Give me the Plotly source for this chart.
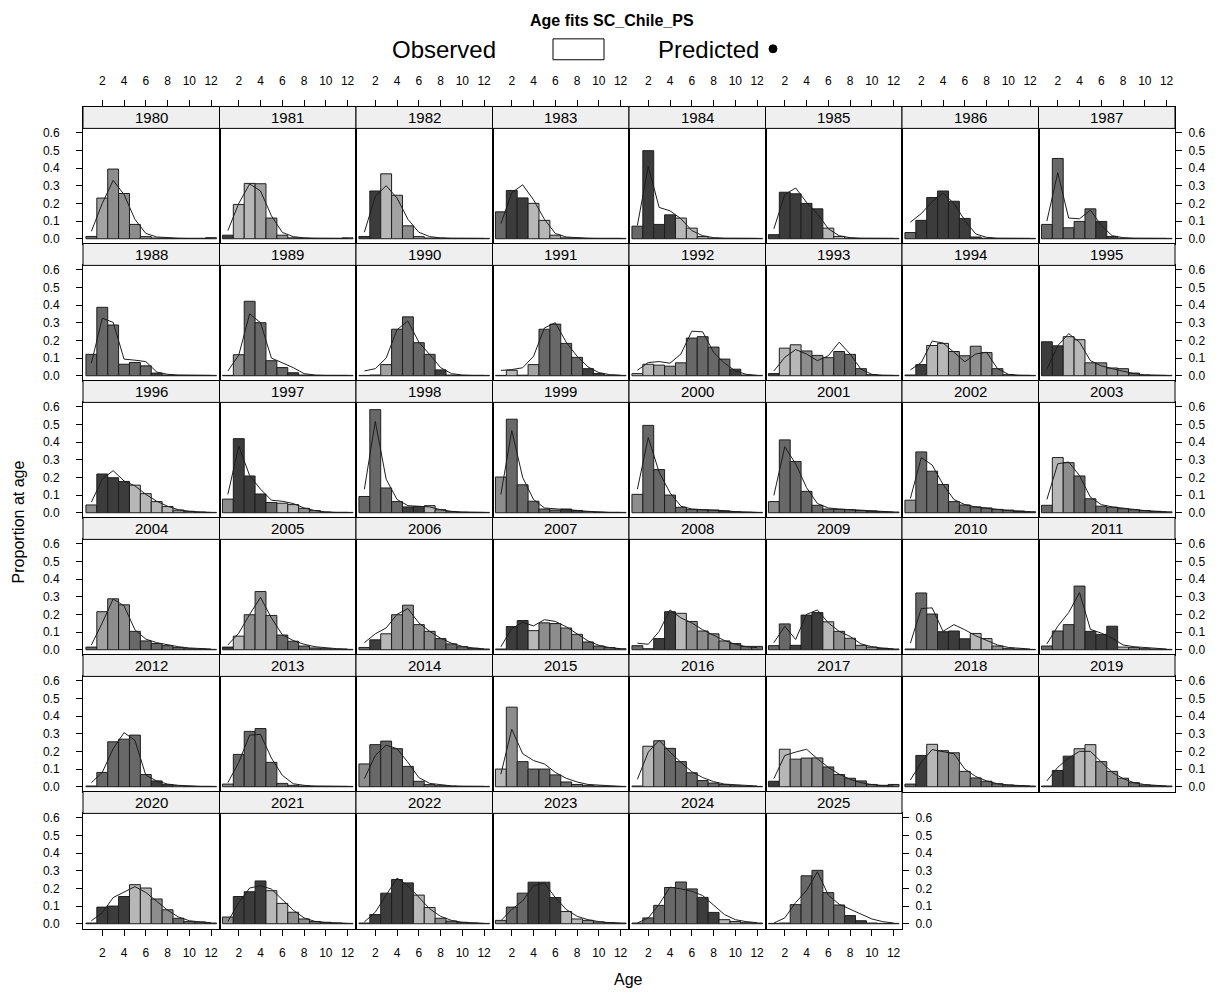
import plotly.graph_objects as go

# ---------------- data ----------------
AGES = list(range(1, 13))
YEARS = list(range(1980, 2026))

obs_1980 = [0.013, 0.23, 0.394, 0.256, 0.081, 0.012, 0.004, 0.003, 0.002, 0.002, 0.002, 0.006]
obs_1981 = [0.02, 0.194, 0.313, 0.311, 0.117, 0.02, 0.005, 0.003, 0.002, 0.002, 0.002, 0.005]
obs_1982 = [0.013, 0.27, 0.367, 0.246, 0.073, 0.012, 0.004, 0.003, 0.002, 0.002, 0.002, 0.002]
obs_1983 = [0.152, 0.273, 0.231, 0.2, 0.104, 0.02, 0.005, 0.003, 0.002, 0.002, 0.002, 0.002]
obs_1984 = [0.071, 0.498, 0.081, 0.135, 0.117, 0.06, 0.013, 0.003, 0.002, 0.002, 0.002, 0.002]
obs_1985 = [0.023, 0.263, 0.254, 0.2, 0.169, 0.06, 0.013, 0.003, 0.002, 0.002, 0.002, 0.002]
obs_1986 = [0.035, 0.104, 0.233, 0.27, 0.212, 0.115, 0.01, 0.003, 0.002, 0.002, 0.002, 0.002]
obs_1987 = [0.081, 0.454, 0.062, 0.098, 0.169, 0.098, 0.013, 0.003, 0.002, 0.002, 0.002, 0.002]
obs_1988 = [0.121, 0.387, 0.287, 0.065, 0.075, 0.056, 0.015, 0.004, 0.002, 0.002, 0.002, 0.002]
obs_1989 = [0.002, 0.119, 0.421, 0.3, 0.085, 0.046, 0.017, 0.004, 0.002, 0.002, 0.002, 0.002]
obs_1990 = [0.002, 0.004, 0.063, 0.263, 0.333, 0.187, 0.121, 0.033, 0.004, 0.002, 0.002, 0.002]
obs_1991 = [0.002, 0.031, 0.003, 0.063, 0.263, 0.292, 0.183, 0.104, 0.04, 0.013, 0.003, 0.002]
obs_1992 = [0.012, 0.065, 0.06, 0.054, 0.073, 0.213, 0.221, 0.162, 0.094, 0.037, 0.004, 0.002]
obs_1993 = [0.012, 0.156, 0.175, 0.14, 0.115, 0.102, 0.137, 0.121, 0.04, 0.006, 0.002, 0.002]
obs_1994 = [0.004, 0.063, 0.171, 0.183, 0.137, 0.113, 0.167, 0.131, 0.04, 0.006, 0.002, 0.002]
obs_1995 = [0.192, 0.169, 0.221, 0.204, 0.073, 0.073, 0.044, 0.04, 0.015, 0.004, 0.002, 0.002]
obs_1996 = [0.044, 0.219, 0.198, 0.177, 0.156, 0.108, 0.063, 0.035, 0.015, 0.008, 0.004, 0.002]
obs_1997 = [0.077, 0.419, 0.208, 0.106, 0.058, 0.054, 0.046, 0.025, 0.012, 0.004, 0.002, 0.002]
obs_1998 = [0.092, 0.583, 0.14, 0.063, 0.033, 0.035, 0.04, 0.017, 0.006, 0.003, 0.002, 0.002]
obs_1999 = [0.202, 0.529, 0.158, 0.065, 0.021, 0.015, 0.021, 0.013, 0.006, 0.003, 0.002, 0.002]
obs_2000 = [0.104, 0.494, 0.244, 0.1, 0.031, 0.019, 0.017, 0.015, 0.01, 0.006, 0.003, 0.002]
obs_2001 = [0.063, 0.412, 0.29, 0.121, 0.042, 0.021, 0.019, 0.017, 0.013, 0.01, 0.006, 0.004]
obs_2002 = [0.071, 0.344, 0.235, 0.16, 0.063, 0.044, 0.033, 0.027, 0.019, 0.015, 0.01, 0.006]
obs_2003 = [0.042, 0.312, 0.283, 0.208, 0.079, 0.037, 0.031, 0.023, 0.017, 0.012, 0.008, 0.005]
obs_2004 = [0.015, 0.215, 0.288, 0.254, 0.104, 0.05, 0.035, 0.023, 0.012, 0.006, 0.004, 0.002]
obs_2005 = [0.015, 0.077, 0.198, 0.329, 0.194, 0.083, 0.048, 0.021, 0.01, 0.006, 0.003, 0.002]
obs_2006 = [0.013, 0.056, 0.09, 0.198, 0.252, 0.142, 0.104, 0.063, 0.033, 0.017, 0.008, 0.004]
obs_2007 = [0.004, 0.131, 0.165, 0.108, 0.152, 0.148, 0.123, 0.087, 0.044, 0.021, 0.012, 0.006]
obs_2008 = [0.023, 0.006, 0.063, 0.215, 0.206, 0.16, 0.106, 0.09, 0.05, 0.035, 0.019, 0.019]
obs_2009 = [0.023, 0.146, 0.025, 0.196, 0.21, 0.158, 0.104, 0.065, 0.025, 0.015, 0.008, 0.004]
obs_2010 = [0.004, 0.321, 0.202, 0.102, 0.106, 0.062, 0.092, 0.063, 0.021, 0.008, 0.004, 0.002]
obs_2011 = [0.021, 0.106, 0.142, 0.36, 0.104, 0.087, 0.133, 0.015, 0.012, 0.006, 0.004, 0.002]
obs_2012 = [0.004, 0.081, 0.254, 0.269, 0.292, 0.069, 0.033, 0.012, 0.006, 0.003, 0.002, 0.002]
obs_2013 = [0.015, 0.183, 0.313, 0.329, 0.138, 0.019, 0.008, 0.004, 0.002, 0.002, 0.002, 0.002]
obs_2014 = [0.129, 0.238, 0.258, 0.215, 0.115, 0.031, 0.012, 0.006, 0.003, 0.002, 0.002, 0.002]
obs_2015 = [0.1, 0.45, 0.142, 0.1, 0.1, 0.067, 0.027, 0.013, 0.008, 0.004, 0.002, 0.002]
obs_2016 = [0.004, 0.229, 0.26, 0.217, 0.142, 0.079, 0.035, 0.021, 0.012, 0.006, 0.004, 0.002]
obs_2017 = [0.031, 0.212, 0.156, 0.162, 0.163, 0.112, 0.069, 0.048, 0.033, 0.013, 0.008, 0.013]
obs_2018 = [0.015, 0.177, 0.24, 0.204, 0.192, 0.087, 0.05, 0.031, 0.017, 0.01, 0.006, 0.004]
obs_2019 = [0.004, 0.092, 0.173, 0.215, 0.238, 0.142, 0.087, 0.048, 0.023, 0.01, 0.006, 0.004]
obs_2020 = [0.004, 0.094, 0.1, 0.154, 0.221, 0.202, 0.14, 0.079, 0.031, 0.012, 0.01, 0.004]
obs_2021 = [0.038, 0.154, 0.181, 0.242, 0.187, 0.115, 0.065, 0.027, 0.013, 0.008, 0.004, 0.002]
obs_2022 = [0.004, 0.052, 0.173, 0.25, 0.231, 0.162, 0.092, 0.031, 0.015, 0.008, 0.004, 0.002]
obs_2023 = [0.019, 0.094, 0.173, 0.235, 0.235, 0.148, 0.069, 0.027, 0.019, 0.01, 0.006, 0.004]
obs_2024 = [0.004, 0.033, 0.104, 0.205, 0.236, 0.197, 0.149, 0.064, 0.023, 0.013, 0.006, 0.004]
obs_2025 = [0.002, 0.004, 0.108, 0.271, 0.302, 0.176, 0.106, 0.046, 0.017, 0.004, 0.002, 0.002]

pred_1980 = [0.042, 0.2, 0.33, 0.25, 0.11, 0.03, 0.01, 0.005, 0.003, 0.002, 0.002, 0.002]
pred_1981 = [0.046, 0.2, 0.31, 0.27, 0.13, 0.036, 0.012, 0.005, 0.003, 0.002, 0.002, 0.002]
pred_1982 = [0.037, 0.24, 0.3, 0.23, 0.11, 0.037, 0.012, 0.005, 0.003, 0.002, 0.002, 0.002]
pred_1983 = [0.085, 0.26, 0.305, 0.22, 0.11, 0.03, 0.01, 0.005, 0.003, 0.002, 0.002, 0.002]
pred_1984 = [0.075, 0.41, 0.177, 0.158, 0.113, 0.046, 0.017, 0.006, 0.003, 0.002, 0.002, 0.002]
pred_1985 = [0.056, 0.25, 0.287, 0.206, 0.142, 0.056, 0.017, 0.006, 0.003, 0.002, 0.002, 0.002]
pred_1986 = [0.094, 0.142, 0.21, 0.258, 0.2, 0.104, 0.027, 0.008, 0.003, 0.002, 0.002, 0.002]
pred_1987 = [0.1, 0.373, 0.117, 0.113, 0.162, 0.075, 0.017, 0.006, 0.003, 0.002, 0.002, 0.002]
pred_1988 = [0.071, 0.325, 0.302, 0.094, 0.088, 0.08, 0.021, 0.008, 0.004, 0.002, 0.002, 0.002]
pred_1989 = [0.027, 0.117, 0.35, 0.3, 0.1, 0.075, 0.046, 0.012, 0.004, 0.002, 0.002, 0.002]
pred_1990 = [0.027, 0.04, 0.1, 0.26, 0.31, 0.19, 0.12, 0.046, 0.012, 0.004, 0.002, 0.002]
pred_1991 = [0.03, 0.035, 0.045, 0.11, 0.27, 0.3, 0.19, 0.11, 0.05, 0.018, 0.006, 0.003]
pred_1992 = [0.031, 0.075, 0.08, 0.071, 0.123, 0.252, 0.248, 0.133, 0.071, 0.027, 0.008, 0.002]
pred_1993 = [0.027, 0.104, 0.148, 0.123, 0.085, 0.113, 0.19, 0.123, 0.037, 0.008, 0.003, 0.002]
pred_1994 = [0.033, 0.075, 0.196, 0.185, 0.133, 0.079, 0.123, 0.133, 0.04, 0.008, 0.003, 0.002]
pred_1995 = [0.037, 0.17, 0.238, 0.19, 0.085, 0.056, 0.04, 0.027, 0.012, 0.005, 0.003, 0.002]
pred_1996 = [0.06, 0.19, 0.238, 0.18, 0.152, 0.104, 0.065, 0.037, 0.017, 0.008, 0.004, 0.002]
pred_1997 = [0.104, 0.377, 0.21, 0.133, 0.071, 0.065, 0.052, 0.027, 0.012, 0.004, 0.002, 0.002]
pred_1998 = [0.133, 0.517, 0.19, 0.075, 0.04, 0.037, 0.033, 0.017, 0.008, 0.004, 0.002, 0.002]
pred_1999 = [0.104, 0.465, 0.2, 0.075, 0.027, 0.021, 0.017, 0.013, 0.008, 0.004, 0.002, 0.002]
pred_2000 = [0.133, 0.425, 0.229, 0.113, 0.037, 0.021, 0.017, 0.015, 0.012, 0.006, 0.003, 0.002]
pred_2001 = [0.098, 0.373, 0.277, 0.142, 0.052, 0.027, 0.021, 0.017, 0.013, 0.01, 0.006, 0.004]
pred_2002 = [0.081, 0.312, 0.27, 0.16, 0.075, 0.046, 0.033, 0.025, 0.017, 0.012, 0.008, 0.005]
pred_2003 = [0.075, 0.277, 0.287, 0.21, 0.088, 0.046, 0.033, 0.025, 0.018, 0.012, 0.008, 0.005]
pred_2004 = [0.027, 0.152, 0.287, 0.248, 0.113, 0.06, 0.04, 0.027, 0.017, 0.01, 0.006, 0.004]
pred_2005 = [0.027, 0.094, 0.2, 0.296, 0.18, 0.085, 0.052, 0.031, 0.017, 0.01, 0.006, 0.004]
pred_2006 = [0.04, 0.09, 0.123, 0.2, 0.233, 0.152, 0.104, 0.065, 0.037, 0.019, 0.01, 0.005]
pred_2007 = [0.017, 0.12, 0.155, 0.135, 0.17, 0.16, 0.13, 0.09, 0.05, 0.025, 0.012, 0.006]
pred_2008 = [0.037, 0.031, 0.104, 0.225, 0.18, 0.152, 0.113, 0.081, 0.052, 0.031, 0.017, 0.012]
pred_2009 = [0.04, 0.133, 0.058, 0.2, 0.225, 0.152, 0.104, 0.075, 0.033, 0.017, 0.009, 0.005]
pred_2010 = [0.037, 0.233, 0.237, 0.104, 0.142, 0.113, 0.079, 0.052, 0.027, 0.013, 0.007, 0.004]
pred_2011 = [0.033, 0.133, 0.21, 0.323, 0.115, 0.094, 0.065, 0.027, 0.017, 0.012, 0.007, 0.004]
pred_2012 = [0.023, 0.081, 0.215, 0.306, 0.263, 0.065, 0.033, 0.015, 0.008, 0.004, 0.002, 0.002]
pred_2013 = [0.023, 0.138, 0.292, 0.296, 0.162, 0.065, 0.017, 0.008, 0.004, 0.002, 0.002, 0.002]
pred_2014 = [0.046, 0.177, 0.235, 0.215, 0.138, 0.052, 0.019, 0.01, 0.005, 0.003, 0.002, 0.002]
pred_2015 = [0.071, 0.325, 0.187, 0.148, 0.129, 0.081, 0.048, 0.027, 0.013, 0.008, 0.004, 0.002]
pred_2016 = [0.042, 0.196, 0.263, 0.196, 0.138, 0.085, 0.052, 0.029, 0.015, 0.01, 0.006, 0.004]
pred_2017 = [0.046, 0.177, 0.196, 0.212, 0.158, 0.11, 0.071, 0.042, 0.023, 0.012, 0.006, 0.004]
pred_2018 = [0.038, 0.138, 0.21, 0.2, 0.187, 0.1, 0.058, 0.033, 0.017, 0.01, 0.006, 0.004]
pred_2019 = [0.033, 0.11, 0.162, 0.2, 0.2, 0.138, 0.081, 0.046, 0.023, 0.012, 0.006, 0.004]
pred_2020 = [0.017, 0.062, 0.148, 0.177, 0.21, 0.177, 0.129, 0.077, 0.038, 0.017, 0.01, 0.006]
pred_2021 = [0.013, 0.119, 0.202, 0.215, 0.196, 0.138, 0.077, 0.033, 0.013, 0.007, 0.004, 0.002]
pred_2022 = [0.01, 0.065, 0.162, 0.258, 0.215, 0.148, 0.085, 0.042, 0.019, 0.008, 0.004, 0.002]
pred_2023 = [0.017, 0.081, 0.129, 0.215, 0.231, 0.148, 0.081, 0.042, 0.023, 0.012, 0.006, 0.003]
pred_2024 = [0.004, 0.033, 0.11, 0.207, 0.197, 0.184, 0.159, 0.104, 0.052, 0.023, 0.012, 0.006]
pred_2025 = [0.004, 0.033, 0.12, 0.188, 0.294, 0.162, 0.11, 0.081, 0.052, 0.027, 0.012, 0.004]

OBSERVED = [globals()[f"obs_{y}"] for y in YEARS]
PREDICTED = [globals()[f"pred_{y}"] for y in YEARS]

Y_TICKS = [0.0, 0.1, 0.2, 0.3, 0.4, 0.5, 0.6]
Y_TICKTEXT = ["0.0", "0.1", "0.2", "0.3", "0.4", "0.5", "0.6"]
X_TICKS = [2, 4, 6, 8, 10, 12]

# ---------------- style ----------------
# grey level of each bar (one letter per age)
SHADES = {"D": "#3c3c3c", "M": "#686868", "G": "#8d8d8d", "K": "#a2a2a2", "L": "#b7b7b7"}
SHADE_CODE = {
    1980: "MKGGGGGGGGGG", 1981: "DLLKGGGGGGGG", 1982: "DDLKGGGGGGGG", 1983: "MDDLLKGGGGGG",
    1984: "MDDDLLKGGGGG", 1985: "DDDDDLLGGGGG", 1986: "MDDDDDDGGGGG", 1987: "MMMMMDDGGGGG",
    1988: "MMMMMMDDGGGG", 1989: "GGMMMMDDGGGG", 1990: "GGKMMMMDDGGG", 1991: "LLGKMMMMDDGG",
    1992: "LLKGGMMMMDDG", 1993: "DLLGGGMMMMDD", 1994: "DDLLGGGGMMMM", 1995: "DDLLGGGGMMMM",
    1996: "GDDDLLLLGGGG", 1997: "GDDDMLLGGGGG", 1998: "MMMMDDLGGGGG", 1999: "GMMMMMDDLGGG",
    2000: "GMMMMMMMDDGG", 2001: "GMMMMMMMMDDG", 2002: "GMMMMMMMMMDD", 2003: "MLGMMMMMMMMM",
    2004: "MKGGMMMMMMMM", 2005: "DLGGGMMMMMMM", 2006: "MDLGGGGMMMMM", 2007: "MDDLGGGGMMMM",
    2008: "MLDDLGGGGMMM", 2009: "MMDDDLGGGGMM", 2010: "MMMDDDLLGGGG", 2011: "MMMMDDDLGGGG",
    2012: "MMMMMMDDLGGG", 2013: "GMMMMMMDDGGG", 2014: "GMMMMMMMDDGG", 2015: "LGMMMMMMMDDG",
    2016: "LLGMMMMMMMDD", 2017: "DLGGGMMMMMMM", 2018: "MDLGGGMMMMMM", 2019: "MDDLLGGGMMMM",
    2020: "MDDDLLGGMMMM", 2021: "GDDDLLGGMMMM", 2022: "MDDDDLLGMMMM", 2023: "GMMDDDLLGGMM",
    2024: "MMMMMMDDLGGG", 2025: "MMMMMMMDDGGG",
}

FONT = "Liberation Sans, Arial, Helvetica, sans-serif"
OFF = 8.0                      # page margin of the browser around the figure
W, H = 1224 - 2 * OFF, 999 - 2 * OFF
NCOL = 8
LEFT = 83.0 - OFF
PANEL_W = 136.5
TOP = 104.0 - OFF
ROW_H = 137.7
STRIP_H = 22.0
XR = [0.23, 12.77]
YR = [-0.027, 0.624]
NROWS = (len(YEARS) + NCOL - 1) // NCOL
YR_TOP = [YR[0], YR[1] + STRIP_H / (ROW_H - STRIP_H) * (YR[1] - YR[0])]


def px(x):
    return (x - OFF) / W


def py(y):
    return 1 - (y - OFF) / H


fig = go.Figure()
layout = {}
shapes = []
annotations = []
tickfont = dict(family=FONT, size=12, color="black")

for i, year in enumerate(YEARS):
    r, c = divmod(i, NCOL)
    n = i + 1
    xa, ya = ("x", "y") if n == 1 else (f"x{n}", f"y{n}")
    xk, yk = ("xaxis", "yaxis") if n == 1 else (f"xaxis{n}", f"yaxis{n}")
    x0 = LEFT + c * PANEL_W
    x1 = x0 + PANEL_W
    st = TOP + r * ROW_H
    pt = st + STRIP_H
    pb = st + ROW_H
    colors = [SHADES[ch] for ch in SHADE_CODE[year]]

    fig.add_trace(go.Bar(x=AGES, y=OBSERVED[i], xaxis=xa, yaxis=ya, width=1.0,
                         marker=dict(color=colors, line=dict(color="#1e1e1e", width=1)),
                         showlegend=False, hoverinfo="skip"))
    fig.add_trace(go.Scatter(x=AGES, y=PREDICTED[i], xaxis=xa, yaxis=ya, mode="lines",
                             line=dict(color="#1e1e1e", width=1),
                             showlegend=False, hoverinfo="skip"))

    first = (r == 0)
    bottom = (r == NROWS - 1)
    right = (c == NCOL - 1) or (i == len(YEARS) - 1)
    left = (c == 0)
    show_x = first or bottom
    top_edge = st if first else pt
    layout[xk] = dict(domain=[x0 / W, x1 / W], range=XR, anchor=ya,
                      side="top" if first else "bottom", showgrid=False,
                      zeroline=False, showline=True, mirror=True, linecolor="black",
                      linewidth=1, tickvals=X_TICKS, ticks="outside" if show_x else "",
                      ticklen=6, tickcolor="black", showticklabels=show_x,
                      ticklabelstandoff=10 if first else 7,
                      tickfont=tickfont, fixedrange=True)
    layout[yk] = dict(domain=[1 - pb / H, 1 - top_edge / H], range=YR_TOP if first else YR,
                      anchor=xa, side="right" if right else "left", showgrid=False,
                      zeroline=False, showline=True, mirror=True, linecolor="black",
                      linewidth=1, tickvals=Y_TICKS, ticktext=Y_TICKTEXT,
                      ticks="outside" if (left or right) else "", ticklen=6,
                      tickcolor="black", showticklabels=(left or right), tickfont=tickfont,
                      ticklabelstandoff=4 if right else 14,
                      fixedrange=True)

    # strip
    shapes.append(dict(type="rect", xref="paper", yref="paper", x0=x0 / W, x1=x1 / W,
                       y0=1 - pt / H, y1=1 - st / H, fillcolor="#efefef",
                       line=dict(color="black", width=1), layer="above"))
    annotations.append(dict(xref="paper", yref="paper", x=(x0 + x1) / 2 / W,
                            y=1 - (st + STRIP_H / 2) / H, text=str(year), showarrow=False,
                            font=dict(family=FONT, size=15, color="black"),
                            xanchor="center", yanchor="middle"))

# title and key
annotations.append(dict(xref="paper", yref="paper", x=px(612), y=py(18),
                        text="<b>Age fits SC_Chile_PS</b>", showarrow=False,
                        font=dict(family=FONT, size=16, color="black"),
                        xanchor="center", yanchor="middle"))
annotations.append(dict(xref="paper", yref="paper", x=px(498), y=py(47),
                        text="Observed", showarrow=False,
                        font=dict(family=FONT, size=24, color="black"),
                        xanchor="right", yanchor="middle"))
shapes.append(dict(type="rect", xref="paper", yref="paper", x0=px(553), x1=px(604),
                   y0=py(57), y1=py(36), fillcolor="white",
                   line=dict(color="black", width=1)))
annotations.append(dict(xref="paper", yref="paper", x=px(656), y=py(47),
                        text="Predicted", showarrow=False,
                        font=dict(family=FONT, size=24, color="black"),
                        xanchor="left", yanchor="middle"))
shapes.append(dict(type="circle", xref="paper", yref="paper", x0=px(769), x1=px(777),
                   y0=py(50), y1=py(42), fillcolor="black",
                   line=dict(color="black", width=1)))
annotations.append(dict(xref="paper", yref="paper", x=px(628), y=py(981),
                        text="Age", showarrow=False,
                        font=dict(family=FONT, size=16, color="black"),
                        xanchor="center", yanchor="middle"))
annotations.append(dict(xref="paper", yref="paper", x=px(18), y=py(522),
                        text="Proportion at age", showarrow=False, textangle=-90,
                        font=dict(family=FONT, size=16, color="black"),
                        xanchor="center", yanchor="middle"))

fig.update_layout(width=W, height=H, autosize=False,
                  margin=dict(l=0, r=0, t=0, b=0, pad=0),
                  paper_bgcolor="white", plot_bgcolor="white",
                  showlegend=False, barmode="overlay",
                  font=dict(family=FONT, color="black"),
                  shapes=shapes, annotations=annotations, **layout)

fig.write_html("out.html")
